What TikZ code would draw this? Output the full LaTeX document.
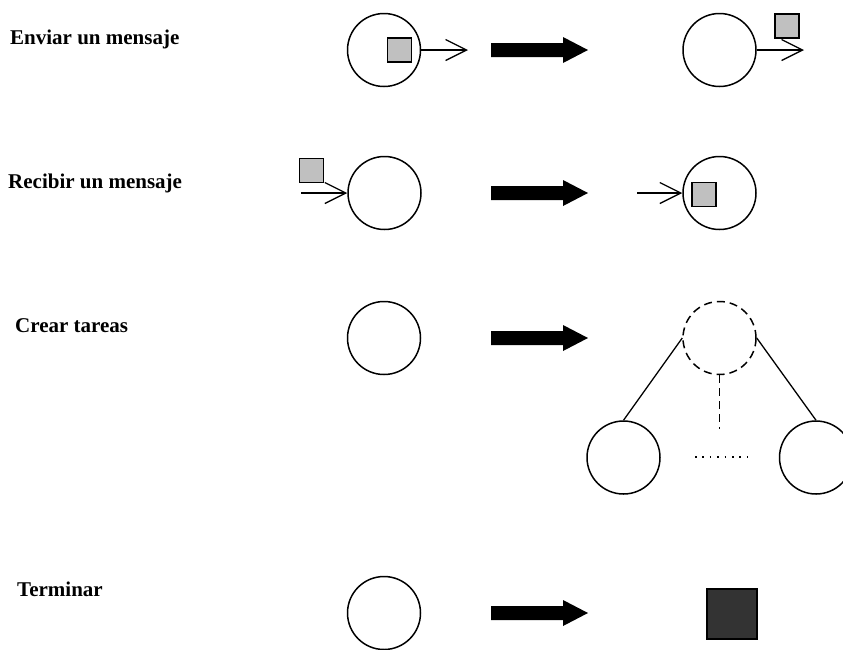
\documentclass[tikz,border=0pt]{standalone}
\usepackage{fontspec}
\setmainfont{Liberation Serif}
\usetikzlibrary{arrows.meta}
\definecolor{msggray}{HTML}{C0C0C0}
\definecolor{endgray}{HTML}{333333}
\begin{document}
\begin{tikzpicture}[x=1pt,y=-1pt,
  proc/.style={circle,draw,line width=1.5pt,minimum size=73pt,inner sep=0pt},
  ghost/.style={proc,dash pattern=on 8pt off 5pt},
  msg/.style={rectangle,draw,line width=1.5pt,fill=msggray,minimum size=24pt,inner sep=0pt},
  halt/.style={rectangle,draw,line width=1.5pt,fill=endgray,minimum size=50pt,inner sep=0pt},
  send/.style={line width=1.3pt,-{Straight Barb[length=21pt,width=21pt,line width=1.3pt]}},
  link/.style={line width=1.3pt},
  label/.style={anchor=base west,inner sep=0pt,font=\bfseries\fontsize{21}{25}\selectfont},
  bigarrow/.pic={\fill (-48.5,-7) -- (23.5,-7) -- (23.5,-13) -- (48.5,0)
                        -- (23.5,13) -- (23.5,7) -- (-48.5,7) -- cycle;}]
\clip (0,0) rectangle (843,649);

% labels
\node[label] (l1) at (10,44)  {Enviar un mensaje};
\node[label] (l2) at (8,188)  {Recibir un mensaje};
\node[label] (l3) at (15,332) {Crear tareas};
\node[label] (l4) at (17,596) {Terminar};

% transition arrows
\pic at (539.5,50)  {bigarrow};
\pic at (539.5,193) {bigarrow};
\pic at (539.5,338) {bigarrow};
\pic at (539.5,613) {bigarrow};

% send a message
\node[proc] (s1) at (384,50) {};
\node[msg]  (m1) at (399.5,50) {};
\coordinate (s1tip) at (468,50);
\draw[send] (s1.east) -- (s1tip);
\node[proc] (s2) at (719.5,50) {};
\coordinate (s2tip) at (804,50);
\draw[send] (s2.east) -- (s2tip);
\node[msg]  (m2) at (787,26) {};

% receive a message
\node[proc] (r1) at (384.5,193) {};
\node[msg]  (m3) at (311.5,170.5) {};
\coordinate (r1tail) at (301,193);
\draw[send] (r1tail) -- (r1.west);
\node[proc] (r2) at (719.5,193) {};
\coordinate (r2tail) at (637,193);
\draw[send] (r2tail) -- (r2.west);
\node[msg]  (m4) at (704,194.5) {};

% create tasks
\node[proc]  (c1) at (384,338) {};
\node[ghost] (c2) at (719.5,338) {};
\node[proc]  (k1) at (623.5,457.5) {};
\node[proc]  (k2) at (816,457.5) {};
\draw[link] (c2.west) -- (k1.north);
\draw[link] (c2.east) -- (k2.north);
\coordinate (cdash) at (719.5,429);
\draw[link,dash pattern=on 8pt off 5pt] (c2.south) -- (cdash);
\coordinate (dotA) at (695,457);
\coordinate (dotB) at (749,457);
\draw[line width=1.3pt,dash pattern=on 1.6pt off 5.8pt] (dotA) -- (dotB);

% terminate
\node[proc] (t1) at (384,613) {};
\node[halt] (t2) at (732,614) {};
\end{tikzpicture}
\end{document}
